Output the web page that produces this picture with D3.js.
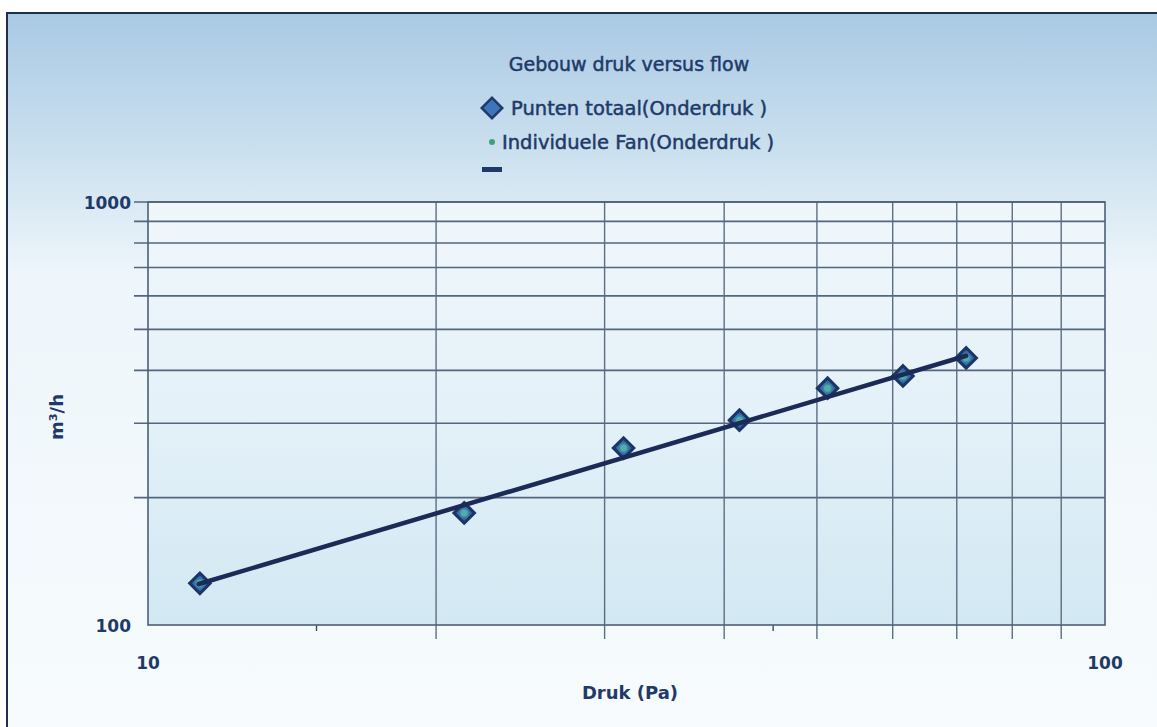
<!DOCTYPE html>
<html><head><meta charset="utf-8">
<script src="https://cdn.jsdelivr.net/npm/d3@7"></script>
<style>html,body{margin:0;padding:0;background:#fff;}svg{display:block;}</style>
</head><body>
<svg id="c" width="1157" height="727"></svg>
<script>
// Data
const pressure = [11.33, 21.4, 31.4, 41.5, 51.3, 61.5, 71.6];   // Pa
const flowTotal = [125.5, 184, 262, 305, 363, 388, 428];       // m3/h
const flowFan   = [125.5, 184, 262, 305, 363, 388, 428];
const fitPressure = [11.3, 71.6];
const fitFlow = [125.0, 433];
const xMajorTicks = [20, 30, 40, 50, 60, 70, 80, 90];
const xMinorTicks = [15, 45];
const yGridTicks = [200, 300, 400, 500, 600, 700, 800, 900, 1000];
const xTickLabels = [10, 100];
const yTickLabels = [100, 1000];
const title = "Gebouw druk versus flow";
const legendLabels = ["Punten totaal(Onderdruk )", "Individuele Fan(Onderdruk )", ""];

const svg = d3.select("#c");
const defs = svg.append("defs");
const bg = defs.append("linearGradient").attr("id","bg").attr("x1",0).attr("y1",0).attr("x2",0).attr("y2",1);
bg.append("stop").attr("offset","0").attr("stop-color","#a9c9e4");
bg.append("stop").attr("offset","0.18").attr("stop-color","#c9dfee");
bg.append("stop").attr("offset","0.36").attr("stop-color","#eef6fb");
bg.append("stop").attr("offset","1").attr("stop-color","#f7fbfd");
const pg = defs.append("linearGradient").attr("id","pg").attr("x1",0).attr("y1",0).attr("x2",0).attr("y2",1);
pg.append("stop").attr("offset","0").attr("stop-color","#f0f7fb");
pg.append("stop").attr("offset","0.5").attr("stop-color","#e4f1f8");
pg.append("stop").attr("offset","1").attr("stop-color","#d2e8f3");
const mg = defs.append("radialGradient").attr("id","mg");
mg.append("stop").attr("offset","0").attr("stop-color","#5aa7c9");
mg.append("stop").attr("offset","1").attr("stop-color","#2e5f9e");

const navy = "#1f3a68";
const font = "'DejaVu Sans', Verdana, sans-serif";

// Outer frame
svg.append("rect").attr("x",7).attr("y",13).attr("width",1160).attr("height",730)
  .attr("fill","url(#bg)").attr("stroke","#1e2f4f").attr("stroke-width",2);

const L = 148, R = 1105, T = 202, B = 625;
const x = d3.scaleLog().domain([10,100]).range([L,R]);
const y = d3.scaleLog().domain([100,1000]).range([B,T]);

svg.append("rect").attr("x",L).attr("y",T).attr("width",R-L).attr("height",B-T).attr("fill","url(#pg)");

// Grid
const g = svg.append("g");
g.selectAll("line.h").data(yGridTicks).join("line")
  .attr("x1",134).attr("x2",R).attr("y1",d=>y(d)).attr("y2",d=>y(d))
  .attr("stroke","#53667e").attr("stroke-width",1.6);
g.selectAll("line.v").data(xMajorTicks).join("line")
  .attr("x1",d=>x(d)).attr("x2",d=>x(d)).attr("y1",T).attr("y2",B+14)
  .attr("stroke","#5d6e82").attr("stroke-width",1.4);
g.selectAll("line.m").data(xMinorTicks).join("line")
  .attr("x1",d=>x(d)).attr("x2",d=>x(d)).attr("y1",B).attr("y2",B+6)
  .attr("stroke","#3b4c62").attr("stroke-width",1.4);
svg.append("rect").attr("x",L).attr("y",T).attr("width",R-L).attr("height",B-T)
  .attr("fill","none").attr("stroke","#4b5f78").attr("stroke-width",1.6);

// Axis labels
svg.selectAll("text.yt").data(yTickLabels).join("text")
  .attr("x",131).attr("y",d=>y(d)+7).attr("text-anchor","end")
  .attr("font-family",font).attr("font-weight","bold").attr("font-size",17).attr("fill",navy)
  .text(d=>d);
svg.selectAll("text.xt").data(xTickLabels).join("text")
  .attr("x",d=>x(d)).attr("y",669).attr("text-anchor","middle")
  .attr("font-family",font).attr("font-weight","bold").attr("font-size",17).attr("fill",navy)
  .text(d=>d);

svg.append("text").attr("x",630).attr("y",699).attr("text-anchor","middle")
  .attr("font-family",font).attr("font-size",18).attr("fill",navy).attr("font-weight","bold").text("Druk (Pa)");
svg.append("text").attr("transform","translate(63,417) rotate(-90)").attr("text-anchor","middle")
  .attr("font-family",font).attr("font-size",18).attr("fill",navy).attr("font-weight","bold").text("m³/h");

// Title & legend
svg.append("text").attr("x",629).attr("y",71).attr("text-anchor","middle")
  .attr("font-family",font).attr("font-size",19).attr("fill",navy)
  .attr("stroke",navy).attr("stroke-width",0.5).text(title);
svg.append("path").attr("d",d3.symbol().type(d3.symbolSquare).size(210)())
  .attr("transform","translate(492,108) rotate(45)")
  .attr("fill","#3e74bd").attr("stroke",navy).attr("stroke-width",2.5);
svg.append("text").attr("x",511).attr("y",115).attr("font-family",font).attr("font-size",19.5)
  .attr("fill",navy).attr("stroke",navy).attr("stroke-width",0.5).text(legendLabels[0]);
svg.append("circle").attr("cx",492).attr("cy",142).attr("r",3).attr("fill","#3aa37a");
svg.append("text").attr("x",502).attr("y",149).attr("font-family",font).attr("font-size",19.5)
  .attr("fill",navy).attr("stroke",navy).attr("stroke-width",0.5).text(legendLabels[1]);
svg.append("rect").attr("x",482).attr("y",167).attr("width",20).attr("height",5).attr("fill",navy);

// Markers
svg.selectAll("path.pt").data(pressure).join("path")
  .attr("d",d3.symbol().type(d3.symbolSquare).size(210)())
  .attr("transform",(d,i)=>`translate(${x(d)},${y(flowTotal[i])}) rotate(45)`)
  .attr("fill","url(#mg)").attr("stroke","#1b3566").attr("stroke-width",3);
svg.selectAll("circle.fan").data(pressure).join("circle")
  .attr("cx",d=>x(d)).attr("cy",(d,i)=>y(flowFan[i])).attr("r",3.5)
  .attr("fill","#4fb39a").attr("opacity",0.85);

// Fit line
svg.append("path").datum(fitPressure.map((p,i)=>[p,fitFlow[i]]))
  .attr("d",d3.line().x(d=>x(d[0])).y(d=>y(d[1])))
  .attr("stroke","#1b2a56").attr("stroke-width",4.5).attr("fill","none").attr("stroke-linecap","round");
</script>
</body></html>
